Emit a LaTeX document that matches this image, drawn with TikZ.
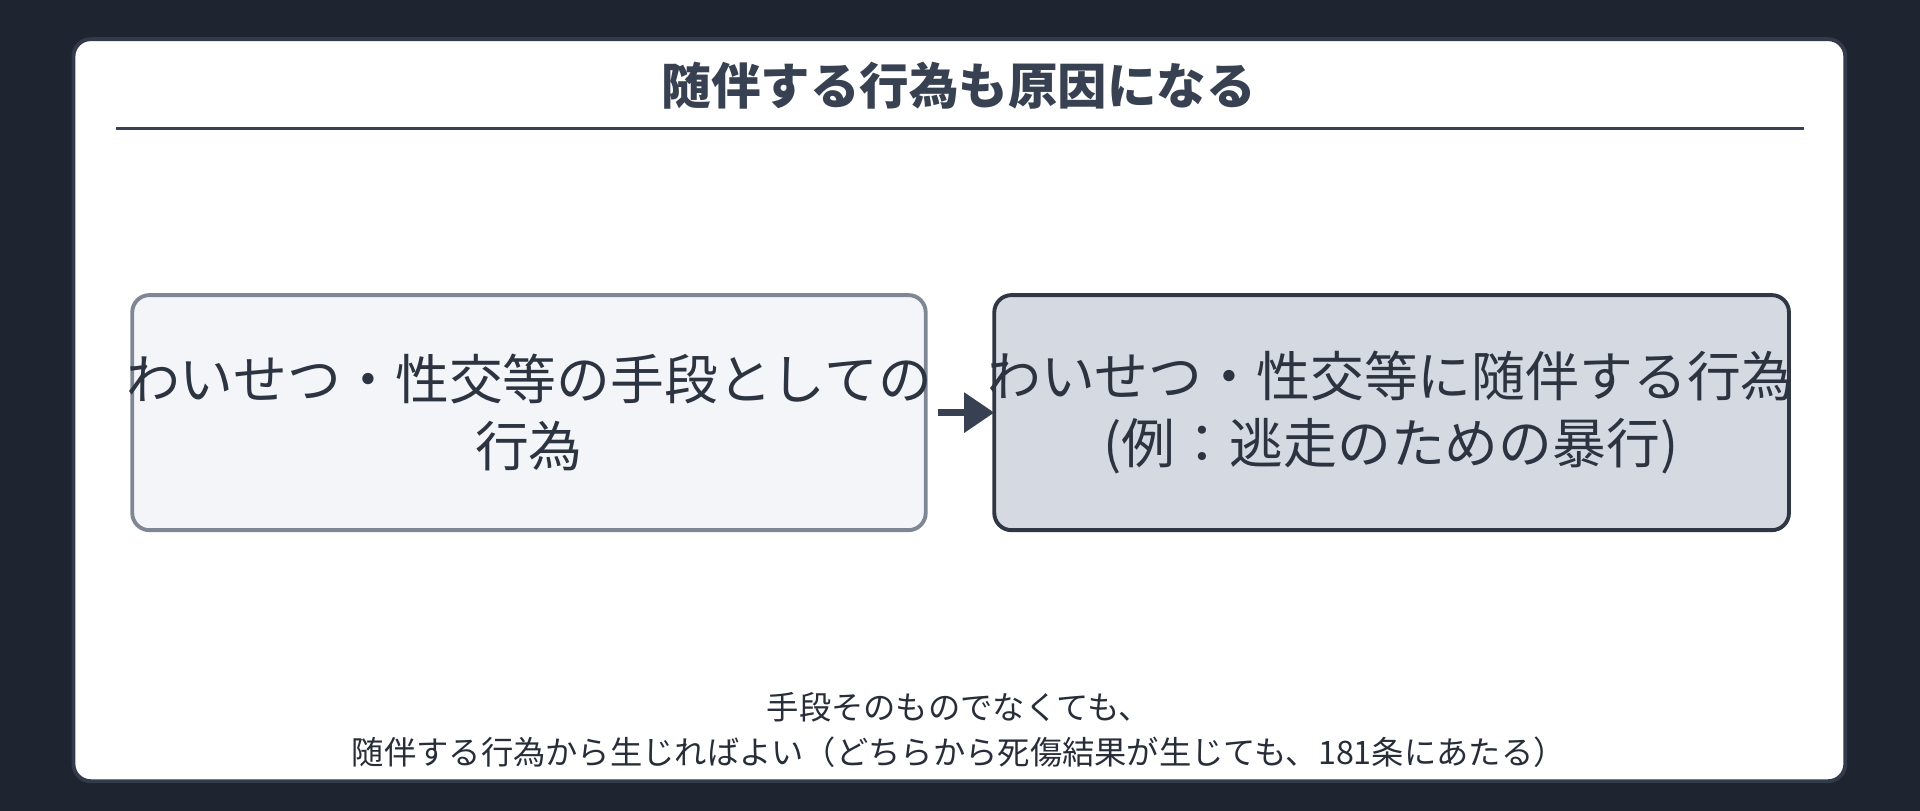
\documentclass[tikz,border=0pt]{standalone}
\usepackage{fontspec}
\setmainfont{Noto Sans CJK JP}
\usetikzlibrary{arrows.meta}
\definecolor{bg}{HTML}{1E2530}
\definecolor{ink}{HTML}{374151}
\definecolor{lfill}{HTML}{F3F5F8}
\definecolor{lborder}{HTML}{7F8694}
\definecolor{rfill}{HTML}{D5D9E1}
\definecolor{rborder}{HTML}{2F3744}
\begin{document}
\begin{tikzpicture}[x=0.01cm,y=-0.01cm,
  box/.style={rounded corners=4pt,line width=0.9pt,align=center,font=\fontsize{12.5}{15.5}\selectfont,text=ink!80!black,inner sep=0pt},
]
\useasboundingbox (0,0) rectangle (1568,662);
\fill[bg] (0,0) rectangle (1568,662);
\draw[fill=white,draw=ink!80!bg,line width=0.9pt,rounded corners=4pt] (60,32) rectangle (1507,638);
\node[font=\bfseries\fontsize{11.5}{14}\selectfont,text=ink] (title) at (783,70) {随伴する行為も原因になる};
\draw[ink,line width=0.6pt] (95,105) -- (1473,105);
\draw[box,fill=lfill,draw=lborder] (108,241) rectangle (756,433);
\node[box] (l) at (432,337) {わいせつ・性交等の手段としての\\行為};
\draw[box,fill=rfill,draw=rborder] (812,241) rectangle (1461,433);
\node[box] (r) at (1136,337) {わいせつ・性交等に随伴する行為\\(例：逃走のための暴行)};
\coordinate (a1) at (766,337);
\coordinate (a2) at (812,337);
\draw[ink,line width=1.6pt,-{Triangle[length=7pt,width=9pt]}] (a1) -- (a2);
\node[font=\fontsize{7.5}{10.5}\selectfont,text=ink!70!black,align=center] (note) at (783,596) {手段そのものでなくても、\\随伴する行為から生じればよい（どちらから死傷結果が生じても、181条にあたる）};
\end{tikzpicture}
\end{document}
